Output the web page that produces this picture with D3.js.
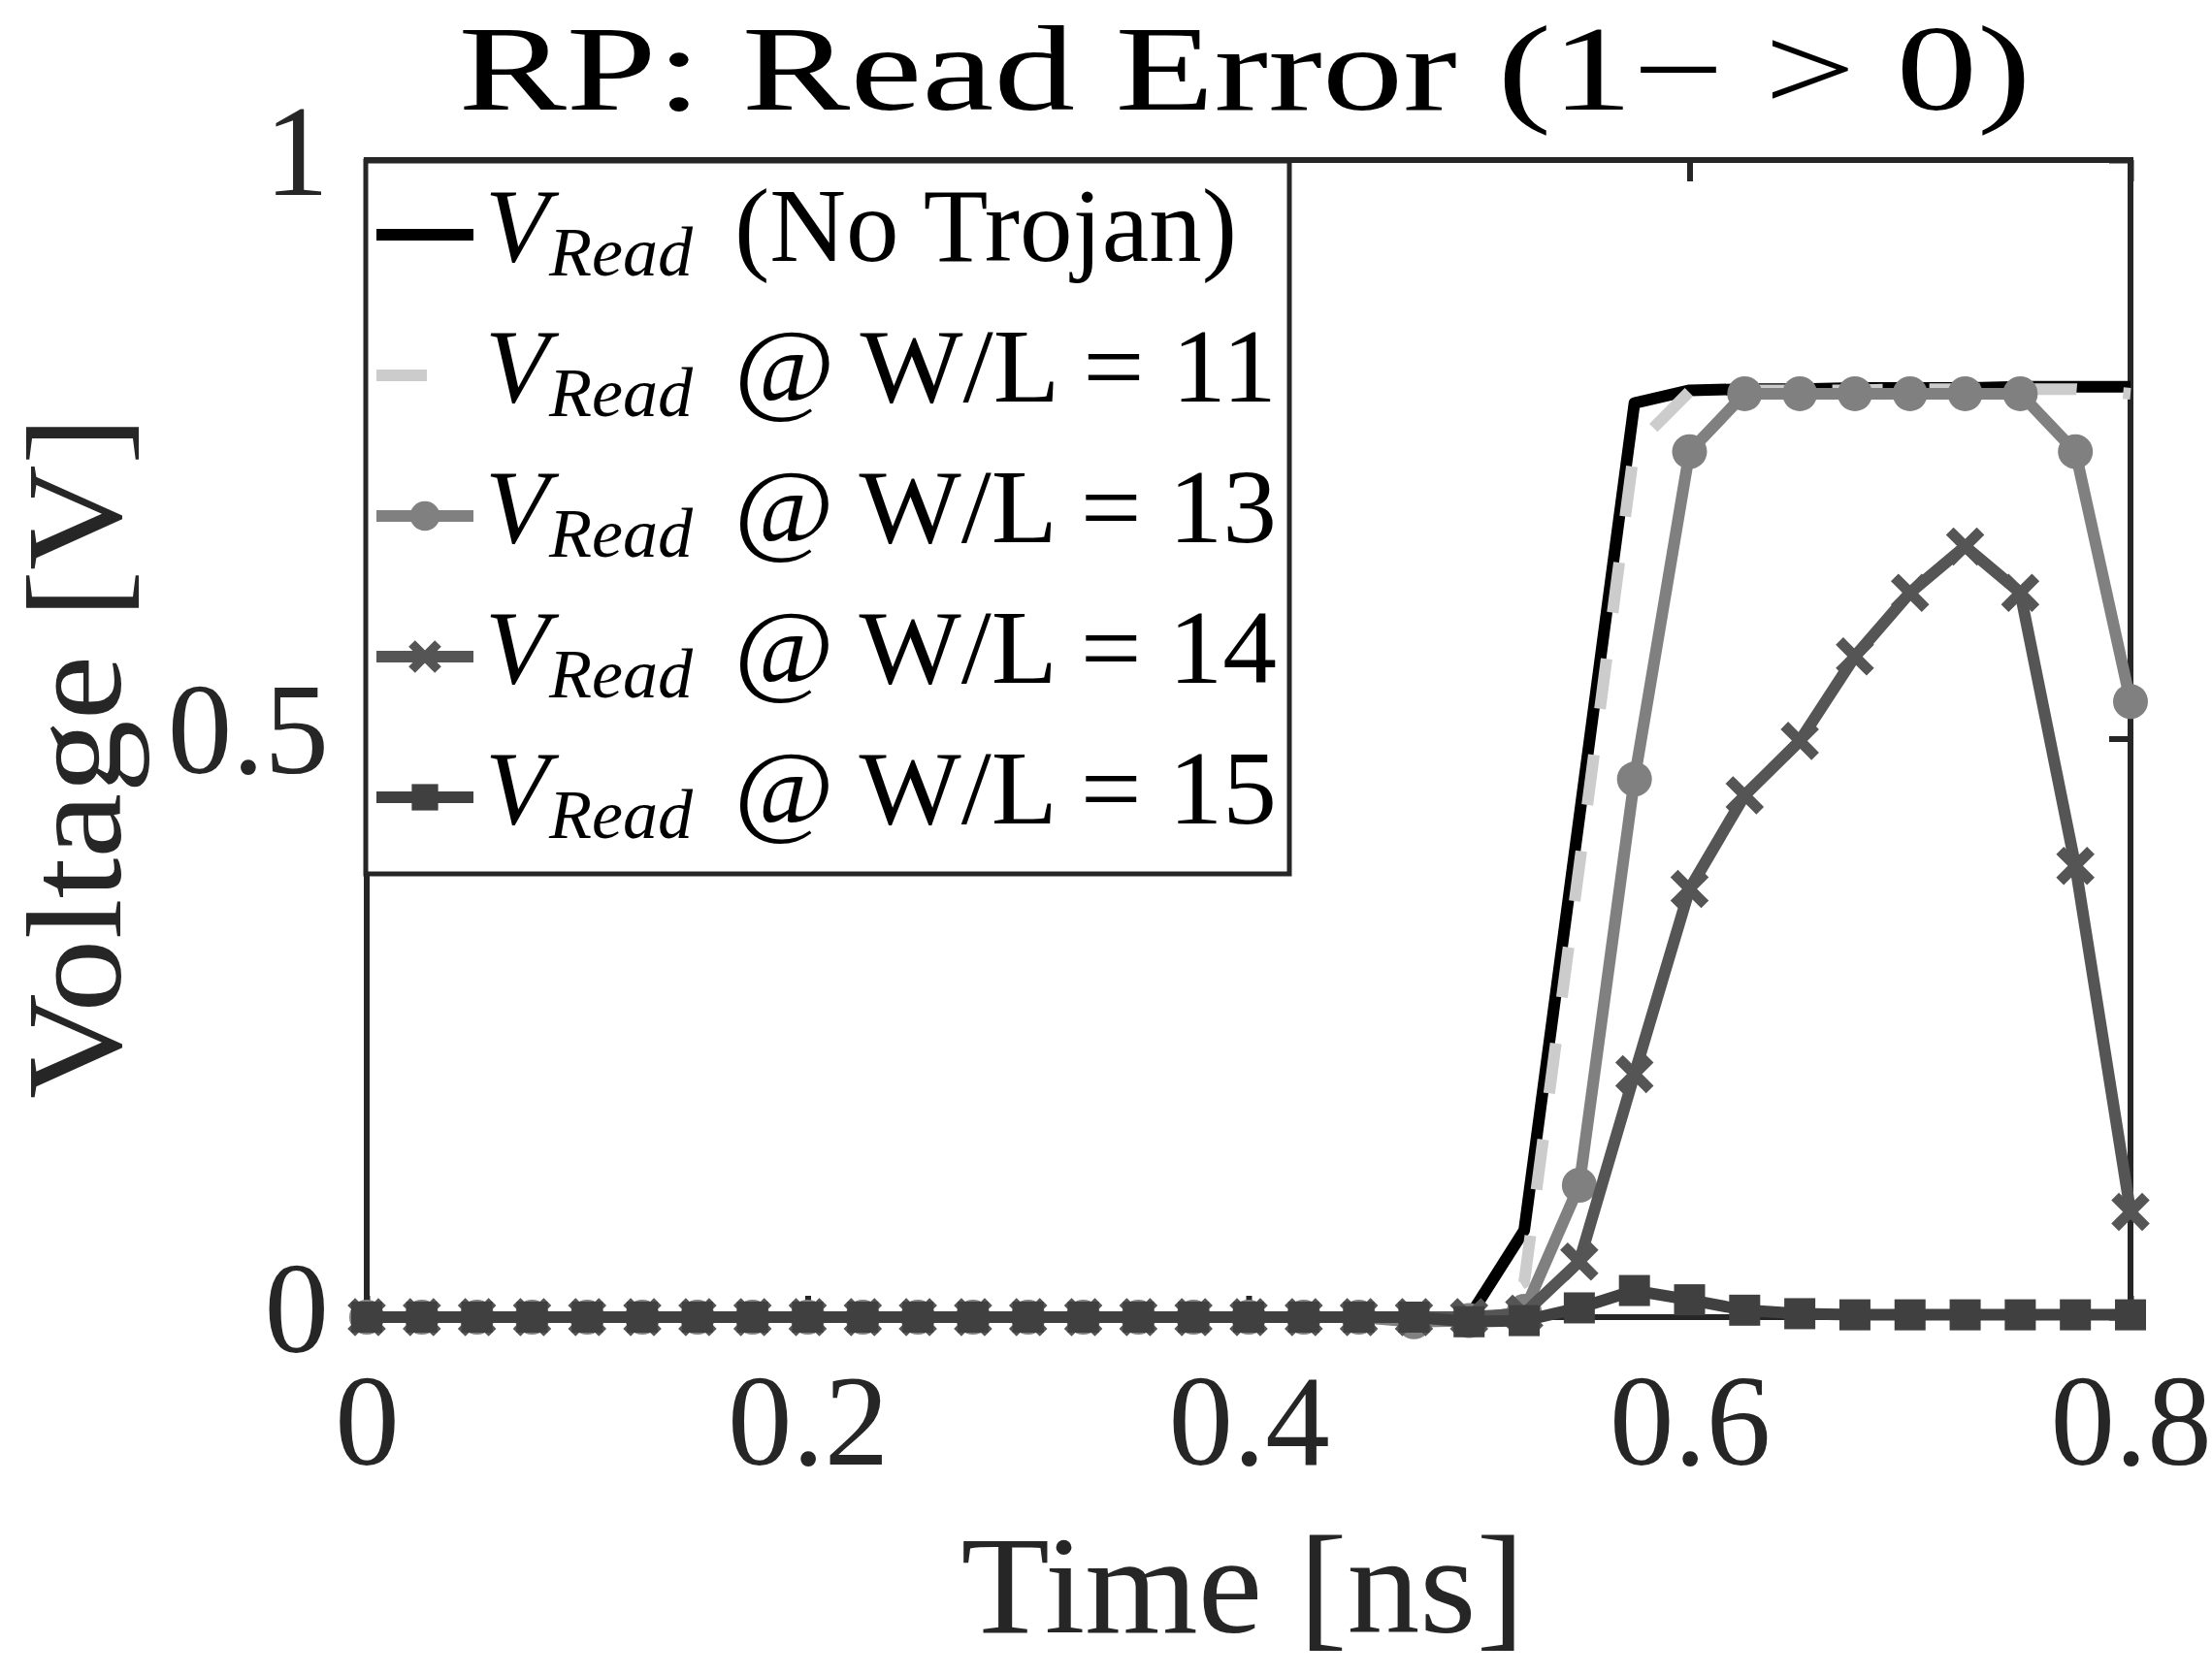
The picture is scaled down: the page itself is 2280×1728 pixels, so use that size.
<!DOCTYPE html>
<html lang="en">
<head>
<meta charset="UTF-8">
<title>RP: Read Error</title>
<script src="https://cdn.jsdelivr.net/npm/d3@7"></script>
<style>
  body { margin: 0; background: #fff; }
  text { font-family: "Liberation Serif", "DejaVu Serif", serif; }
</style>
</head>
<body>
<script>
// time samples [ns]
const time = [0, 0.025, 0.05, 0.075, 0.1, 0.125, 0.15, 0.175, 0.2, 0.225, 0.25,
  0.275, 0.3, 0.325, 0.35, 0.375, 0.4, 0.425, 0.45, 0.475, 0.5, 0.525, 0.55,
  0.575, 0.6, 0.625, 0.65, 0.675, 0.7, 0.725, 0.75, 0.775, 0.8]

// read voltage [V]
const vNoTrojan = [0, 0, 0, 0, 0, 0, 0, 0, 0, 0, 0, 0, 0, 0, 0, 0, 0, 0, 0, 0, 0,
  0.075, 0.432, 0.79, 0.801, 0.802, 0.802, 0.803, 0.803, 0.803, 0.804, 0.804, 0.804]
const vWL11 = [0, 0, 0, 0, 0, 0, 0, 0, 0, 0, 0, 0, 0, 0, 0, 0, 0, 0, 0, 0, 0,
  0.03, 0.39, 0.752, 0.8, 0.801, 0.801, 0.801, 0.802, 0.802, 0.802, 0.802, 0.798]
const vWL13 = [0, 0, 0, 0, 0, 0, 0, 0, 0, 0, 0, 0, 0, 0, 0, 0, 0, 0, 0, -0.004, -0.003,
  0.005, 0.114, 0.465, 0.748, 0.798, 0.798, 0.798, 0.798, 0.798, 0.798, 0.748, 0.532]
const vWL14 = [0, 0, 0, 0, 0, 0, 0, 0, 0, 0, 0, 0, 0, 0, 0, 0, 0, 0, 0, 0, 0,
  0.003, 0.048, 0.21, 0.37, 0.451, 0.498, 0.571, 0.626, 0.666, 0.626, 0.39, 0.091]
const vWL15 = [0, 0, 0, 0, 0, 0, 0, 0, 0, 0, 0, 0, 0, 0, 0, 0, 0, 0, 0, 0, -0.004,
  -0.003, 0.008, 0.023, 0.015, 0.006, 0.003, 0.002, 0.002, 0.002, 0.002, 0.002, 0.002]

const legendLabels = ["(No Trojan)", "@ W/L = 11", "@ W/L = 13", "@ W/L = 14", "@ W/L = 15"]
const xTicks = [0, 0.2, 0.4, 0.6, 0.8]
const yTicks = [0, 0.5, 1]

const width = 2280
const height = 1728
const axisColor = "#262626"
const lw = 12

const series = [
  { values: vNoTrojan, color: "#000000", dash: null, marker: null },
  { values: vWL11, color: "#cccccc", dash: "52,48", marker: null },
  { values: vWL13, color: "#808080", dash: null, marker: "circle" },
  { values: vWL14, color: "#555555", dash: null, marker: "cross" },
  { values: vWL15, color: "#404040", dash: null, marker: "square" }
]

const x = d3.scaleLinear().domain([0, 0.8]).range([378, 2196])
const y = d3.scaleLinear().domain([0, 1]).range([1358, 165])

const svg = d3.select("body").append("svg")
    .attr("width", width)
    .attr("height", height)
    .style("display", "block")

svg.append("rect").attr("width", width).attr("height", height).attr("fill", "#fff")

// ticks (inward, MATLAB style)
const tickLen = 22
const gx = svg.append("g").attr("transform", `translate(0,${y(0)})`)
    .call(d3.axisBottom(x).tickValues(xTicks).tickSize(-tickLen).tickFormat(d3.format("~g")))
const gy = svg.append("g").attr("transform", `translate(${x(0)},0)`)
    .call(d3.axisLeft(y).tickValues(yTicks).tickSize(-tickLen).tickFormat(d3.format("~g")))
svg.append("g").attr("transform", `translate(0,${y(1)})`)
    .call(d3.axisTop(x).tickValues(xTicks).tickSize(-tickLen).tickFormat(""))
svg.append("g").attr("transform", `translate(${x(0.8)},0)`)
    .call(d3.axisRight(y).tickValues(yTicks).tickSize(-tickLen).tickFormat(""))

svg.selectAll(".domain").remove()
svg.selectAll(".tick line").attr("stroke", axisColor).attr("stroke-width", 6)

gx.selectAll("text")
    .attr("y", 152).attr("dy", null)
    .attr("fill", axisColor).style("font-size", "133px")
gy.selectAll("text")
    .attr("x", -39).attr("y", 35).attr("dy", null)
    .attr("fill", axisColor).style("font-size", "133px")

// box
svg.append("rect")
    .attr("x", x(0)).attr("y", y(1))
    .attr("width", x(0.8) - x(0)).attr("height", y(0) - y(1))
    .attr("fill", "none").attr("stroke", axisColor).attr("stroke-width", 6)

// markers
function drawMarker(sel, type, color) {
  if (type === "circle") {
    sel.append("circle").attr("r", 18).attr("fill", color)
  } else if (type === "cross") {
    sel.append("path").attr("d", "M-12,-12L12,12M-12,12L12,-12")
        .attr("stroke", color).attr("stroke-width", 11).attr("stroke-linecap", "square")
  } else if (type === "square") {
    sel.append("rect").attr("x", -16).attr("y", -16).attr("width", 32).attr("height", 32)
        .attr("fill", color)
  }
}

const line = d3.line()
    .x(function (d, i) { return x(time[i]) })
    .y(function (d) { return y(d) })

series.forEach(function (s) {
  const g = svg.append("g")
  g.append("path")
      .attr("d", line(s.values))
      .attr("fill", "none")
      .attr("stroke", s.color)
      .attr("stroke-width", lw)
      .attr("stroke-linejoin", "round")
      .attr("stroke-dasharray", s.dash)
  if (s.marker) {
    g.selectAll("g.m")
        .data(s.values)
        .enter()
        .append("g")
        .attr("class", "m")
        .attr("transform", function (d, i) { return `translate(${x(time[i])},${y(d)})` })
        .each(function () { drawMarker(d3.select(this), s.marker, s.color) })
  }
})

// legend
const legend = svg.append("g")
legend.append("rect")
    .attr("x", 377).attr("y", 166).attr("width", 952).attr("height", 735)
    .attr("fill", "#fff").attr("stroke", axisColor).attr("stroke-width", 5)

const rowY0 = 269
const rowStep = 145
series.forEach(function (s, i) {
  const by = rowY0 + i * rowStep
  const ly = by - 27
  legend.append("line")
      .attr("x1", 388).attr("x2", 488).attr("y1", ly).attr("y2", ly)
      .attr("stroke", s.color).attr("stroke-width", lw)
      .attr("stroke-dasharray", s.dash)
  if (s.marker) {
    const m = legend.append("g").attr("transform", `translate(438,${ly}) scale(0.85)`)
    drawMarker(m, s.marker, s.color)
  }
  const t = legend.append("text").attr("y", by).attr("fill", "#000")
  t.append("tspan").attr("x", 500).style("font-style", "italic").style("font-size", "108px").text("V")
  t.append("tspan").attr("dy", 15).style("font-style", "italic").style("font-size", "72px").text("Read")
  legend.append("text")
      .attr("x", 757).attr("y", by)
      .attr("textLength", i === 0 ? 518 : 559).attr("lengthAdjust", "spacingAndGlyphs")
      .attr("fill", "#000")
      .style("font-size", "108px")
      .text(legendLabels[i])
})

// title and labels
svg.append("text")
    .attr("x", 1283).attr("y", 113)
    .attr("text-anchor", "middle")
    .attr("textLength", 1621).attr("lengthAdjust", "spacingAndGlyphs")
    .style("font-size", "124px")
    .attr("fill", "#000")
    .text("RP: Read Error (1\u2212 > 0)")

svg.append("text")
    .attr("x", 1281).attr("y", 1683)
    .attr("text-anchor", "middle")
    .attr("textLength", 581).attr("lengthAdjust", "spacingAndGlyphs")
    .style("font-size", "145px")
    .attr("fill", axisColor)
    .text("Time [ns]")

svg.append("text")
    .attr("transform", "translate(124,781) rotate(-90)")
    .attr("text-anchor", "middle")
    .attr("textLength", 704).attr("lengthAdjust", "spacingAndGlyphs")
    .style("font-size", "140px")
    .attr("fill", axisColor)
    .text("Voltage [V]")
</script>
</body>
</html>
